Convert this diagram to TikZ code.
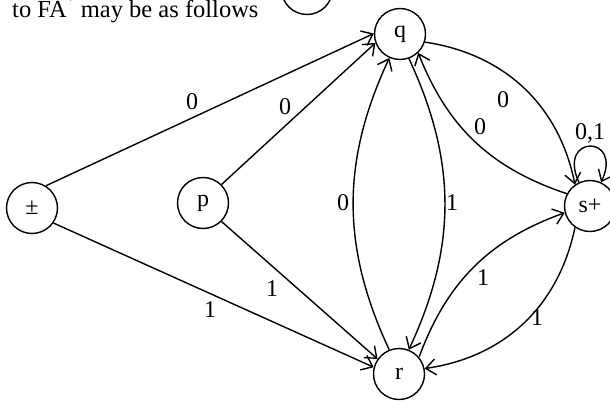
\documentclass[tikz,border=0pt]{standalone}
\usepackage{fontspec}
\setmainfont{Liberation Serif}
\usetikzlibrary{arrows.meta}
\begin{document}
\begin{tikzpicture}[x=1pt,y=1pt,
  every node/.style={font=\fontsize{24}{28}\selectfont},
  state/.style={circle,draw,line width=1.4pt,minimum size=51pt,inner sep=0pt},
  edge/.style={line width=1.4pt,-{Straight Barb[length=10pt,width=16pt]}},
  lab/.style={inner sep=0pt},
]
\useasboundingbox (0,0) rectangle (610,400);
\clip (0,0) rectangle (610,400);
\node[anchor=base west,inner sep=0pt,font=\fontsize{24.5}{28}\selectfont] (title) at (12,382)
  {to FA\raisebox{15pt}{\fontsize{14}{14}\selectfont +} may be as follows};
\node[state] (top) at (307,411) {};
\node[state] (pm) at (32,192) {±};
\node[state] (p) at (203,197) {p};
\node[state] (q) at (400,366) {q};
\node[state] (r) at (399,26) {r};
\node[state] (s) at (590,194) {s+};

\draw[edge] (pm.58) -- (q.179) node[lab] (l1) at (192,298) {0};
\draw[edge] (p.45) -- (q.200) node[lab] (l2) at (285,293) {0};
\draw[edge] (pm.-35) -- (r.165) node[lab] (l3) at (210,90) {1};
\draw[edge] (p.-45) -- (r.145) node[lab] (l4) at (272,111) {1};
\draw[edge] (r.112) to[out=115,in=245] (q.246) node[lab] (l5) at (343,197) {0};
\draw[edge] (q.290) to[out=-65,in=65] (r.68) node[lab] (l6) at (452,197) {1};
\draw[edge] (q.342) to[bend left=35] (s.125) node[lab] (l7) at (503,300) {0};
\draw[edge] (s.152) to[bend left=25] (q.314) node[lab] (l8) at (480,273) {0};
\draw[edge] (r.40) to[bend left=25] (s.195) node[lab] (l9) at (483,122) {1};
\draw[edge] (s.235) to[bend left=35] (r.12) node[lab] (l10) at (537,82) {1};
\draw[edge] (s.115) to[out=115,in=65,distance=53pt] node[above,inner sep=2pt] (l11) {0,1} (s.65);
\end{tikzpicture}
\end{document}
